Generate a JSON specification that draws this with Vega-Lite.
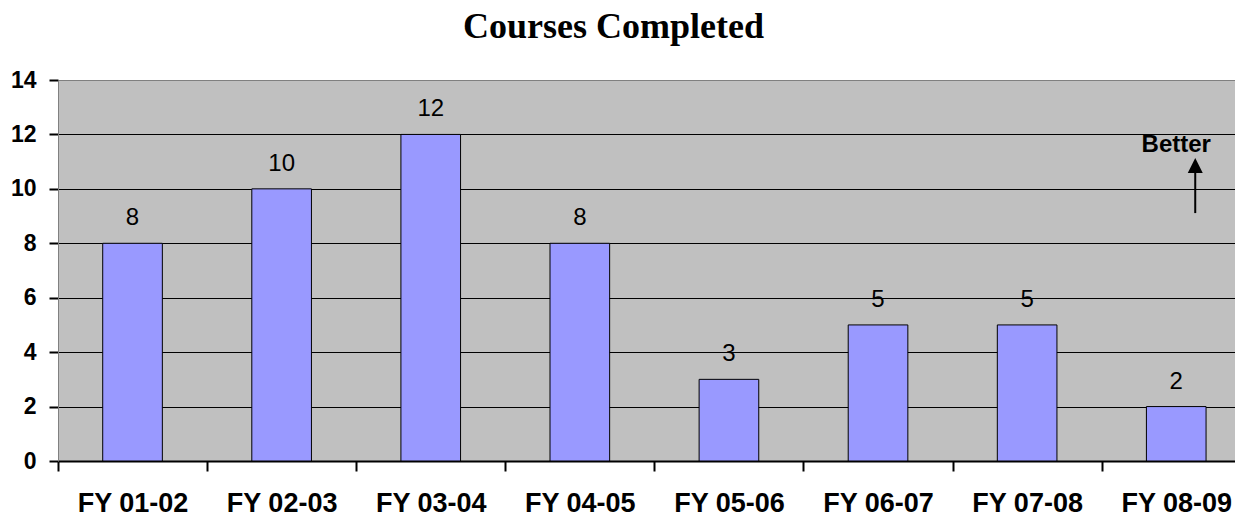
{
  "$schema": "https://vega.github.io/schema/vega-lite/v6.json",
  "autosize": "none",
  "width": 1177,
  "height": 381,
  "padding": {"left": 58, "top": 80, "right": 0, "bottom": 58},
  "background": "white",
  "title": {
    "text": "Courses Completed",
    "font": "Liberation Serif",
    "fontSize": 36,
    "fontWeight": "bold",
    "color": "black",
    "anchor": "middle",
    "baseline": "bottom",
    "offset": -13,
    "dx": -33
  },
  "config": {
    "view": {"fill": "#C0C0C0", "stroke": "#808080", "strokeWidth": 1}
  },
  "layer": [
    {
      "data": {
        "values": [
          {"year": "FY 01-02", "courses": 8},
          {"year": "FY 02-03", "courses": 10},
          {"year": "FY 03-04", "courses": 12},
          {"year": "FY 04-05", "courses": 8},
          {"year": "FY 05-06", "courses": 3},
          {"year": "FY 06-07", "courses": 5},
          {"year": "FY 07-08", "courses": 5},
          {"year": "FY 08-09", "courses": 2}
        ]
      },
      "encoding": {
        "x": {
          "field": "year",
          "type": "nominal",
          "sort": null,
          "scale": {"paddingInner": 0.6, "paddingOuter": 0.247, "align": 0.607},
          "axis": {
            "title": null,
            "labelAngle": 0,
            "labelFont": "Liberation Sans",
            "labelFontSize": 27,
            "labelFontWeight": "bold",
            "labelColor": "black",
            "labelPadding": 19,
            "labelOffset": 74.55,
            "labelOverlap": false,
            "labelBound": false,
            "ticks": true,
            "tickSize": 10,
            "tickWidth": 2,
            "tickColor": "black",
            "tickOffset": -74.55,
            "domainColor": "black",
            "domainWidth": 2,
            "grid": false
          }
        },
        "y": {
          "field": "courses",
          "type": "quantitative",
          "scale": {"domain": [0, 14], "nice": false},
          "axis": {
            "title": null,
            "values": [0, 2, 4, 6, 8, 10, 12, 14],
            "labelFont": "Liberation Sans",
            "labelFontSize": 23,
            "labelFontWeight": "bold",
            "labelColor": "black",
            "labelPadding": 13,
            "tickSize": 9,
            "tickWidth": 2,
            "tickColor": "black",
            "domainColor": "#808080",
            "domainWidth": 1,
            "grid": true,
            "gridColor": {"condition": {"test": "datum.value == 14 || datum.value == 0", "value": "#808080"}, "value": "black"},
            "gridWidth": 1,
            "gridOpacity": 1
          }
        }
      },
      "layer": [
        {
          "mark": {"type": "bar", "fill": "#9999FF", "stroke": "black", "strokeWidth": 1}
        },
        {
          "mark": {
            "type": "text",
            "font": "Liberation Sans",
            "fontSize": 24,
            "color": "black",
            "baseline": "alphabetic",
            "dy": -18
          },
          "encoding": {"text": {"field": "courses", "type": "quantitative"}}
        }
      ]
    },
    {
      "data": {"values": [{"label": "Better"}]},
      "layer": [
        {
          "mark": {
            "type": "text",
            "font": "Liberation Sans",
            "fontSize": 24,
            "fontWeight": "bold",
            "color": "black",
            "baseline": "alphabetic"
          },
          "encoding": {
            "x": {"datum": "FY 08-09"},
            "y": {"datum": 11.37},
            "text": {"field": "label"}
          }
        },
        {
          "mark": {"type": "rule", "color": "black", "strokeWidth": 2, "xOffset": 19},
          "encoding": {
            "x": {"datum": "FY 08-09"},
            "y": {"datum": 9.11},
            "y2": {"datum": 10.62}
          }
        },
        {
          "mark": {"type": "point", "shape": "M-1,1L0,-1L1,1Z", "size": 225, "filled": true, "color": "black", "opacity": 1, "xOffset": 19},
          "encoding": {
            "x": {"datum": "FY 08-09"},
            "y": {"datum": 10.86}
          }
        }
      ]
    }
  ]
}
